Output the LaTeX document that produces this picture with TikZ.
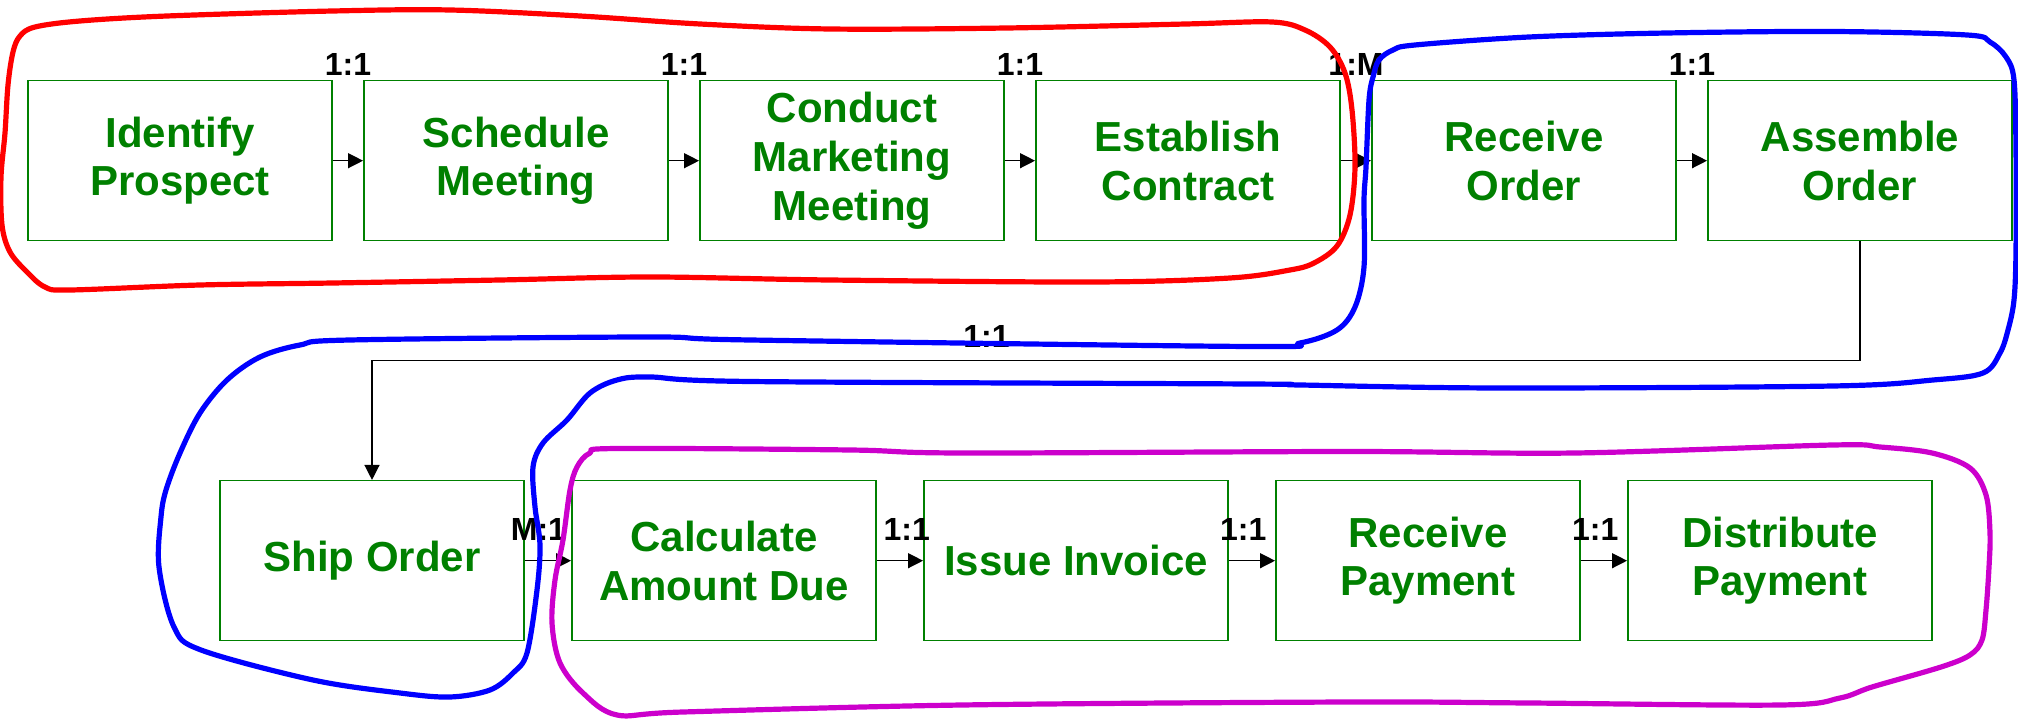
\documentclass[tikz,border=0pt]{standalone}
\usepackage{fontspec}
\setmainfont{Liberation Sans}
\usetikzlibrary{arrows.meta}
\definecolor{boxgreen}{RGB}{0,128,0}
\definecolor{loopred}{RGB}{255,0,0}
\definecolor{loopblue}{RGB}{0,0,255}
\definecolor{loopmag}{RGB}{204,0,204}
\begin{document}
\begin{tikzpicture}[x=0.5pt,y=-0.5pt,
  task/.style={draw=boxgreen, line width=0.75pt, minimum width=152.2pt,
    minimum height=80pt, inner sep=0pt, align=center, text=boxgreen,
    font=\fontsize{21}{24.35}\selectfont\bfseries},
  flow/.style={line width=0.65pt, -{Triangle[length=7.5pt,width=7.5pt]}},
  ratio/.style={font=\fontsize{16}{18}\selectfont\bfseries, inner sep=0pt, anchor=base},
  toplbl/.style={ratio, yshift=42.35pt},
  botlbl/.style={ratio, yshift=10.35pt},
  group/.style={line width=2.6pt, line join=round},
]
\useasboundingbox (0,0) rectangle (2018,721);

% upper row of process steps
\node[task] (b1) at (180,160.7)  {Identify\\Prospect};
\node[task] (b2) at (516,160.7)  {Schedule\\Meeting};
\node[task] (b3) at (852,160.7)  {Conduct\\Marketing\\Meeting};
\node[task] (b4) at (1188,160.7) {Establish\\Contract};
\node[task] (b5) at (1524,160.7) {Receive\\Order};
\node[task] (b6) at (1860,160.7) {Assemble\\Order};

% lower row of process steps
\node[task] (b7)  at (372,560.7)  {Ship Order};
\node[task] (b8)  at (724,560.7)  {Calculate\\Amount Due};
\node[task] (b9)  at (1076,560.7) {Issue Invoice};
\node[task] (b10) at (1428,560.7) {Receive\\Payment};
\node[task] (b11) at (1780,560.7) {Distribute\\Payment};

% flow along the upper row
\draw[flow] (b1.east) -- node[toplbl] (r1) {1:1} (b2.west);
\draw[flow] (b2.east) -- node[toplbl] (r2) {1:1} (b3.west);
\draw[flow] (b3.east) -- node[toplbl] (r3) {1:1} (b4.west);
\draw[flow] (b4.east) -- node[toplbl] (r4) {1:M} (b5.west);
\draw[flow] (b5.east) -- node[toplbl] (r5) {1:1} (b6.west);

% elbow from the upper row down to shipping
\coordinate (elb) at (1860,360.7);
\draw[flow] (b6.south) -- (elb) -| node[pos=0.2935, ratio, yshift=6.35pt] (r6) {1:1} (b7.north);

% flow along the lower row
\draw[flow] (b7.east) -- node[botlbl, xshift=-4.8pt] (r7) {M:1} (b8.west);
\draw[flow] (b8.east) -- node[botlbl, xshift=3.4pt] (r8) {1:1} (b9.west);
\draw[flow] (b9.east) -- node[botlbl, xshift=-4.35pt] (r9) {1:1} (b10.west);
\draw[flow] (b10.east) -- node[botlbl, xshift=-4.35pt] (r10) {1:1} (b11.west);

% hand-drawn grouping outlines
\draw[group, loopred] plot[smooth cycle, tension=0.55] coordinates {
  (35,27) (80,21) (167,16) (333,11) (450,10) (580,16) (700,24) (830,29)
  (1007,28) (1186,24) (1272,22) (1305,30) (1330,47) (1345,73) (1352,110)
  (1355,167) (1350,215) (1337,246) (1314,263) (1290,270) (1230,278)
  (1096,282) (829,280) (650,277) (500,280) (333,283) (200,285) (70,290)
  (45,287) (27,272) (10,252) (2,225) (1,177) (5,133) (8,85) (13,52) (20,36)};

\draw[group, loopblue] plot[smooth cycle, tension=0.55] coordinates {
  (1369,100) (1373,77) (1379,60) (1393,50) (1415,45) (1529,37) (1667,33)
  (1833,31.5) (1967,35) (1990,42) (2006,57) (2014,80) (2016,150) (2016,250)
  (2014,300) (2008,330) (2000,353) (1983,373) (1933,380) (1833,386)
  (1500,388) (1300,385) (1250,384) (750,381.5) (650,377) (617,380)
  (590,393) (567,420) (543,443) (533,467) (535,507) (540,545) (537,590)
  (527,653) (513,673) (490,690) (450,697) (400,693) (313,680) (201,650)
  (174,627) (159,567) (161,517) (166,490) (180,453) (200,413) (227,380)
  (260,357) (300,345) (350,340) (650,337) (750,340) (1250,346.5)
  (1300,343) (1337,330) (1355,307) (1364,267) (1364,200) (1366,167)};

\draw[group, loopmag] plot[smooth cycle, tension=0.55] coordinates {
  (590,453) (617,448.5) (850,450) (962,453) (1350,451.5) (1575,453)
  (1833,445) (1880,447) (1932,453) (1970,468) (1986,495) (1990,533)
  (1989,567) (1986,610) (1982,640) (1970,655) (1941,667) (1872,687)
  (1840,698) (1781,705) (1529,703) (1350,702) (962,705) (683,712)
  (617,715) (583,693) (560,663) (552,623) (555,580) (563,540) (570,490)
  (577,467)};
\end{tikzpicture}
\end{document}
